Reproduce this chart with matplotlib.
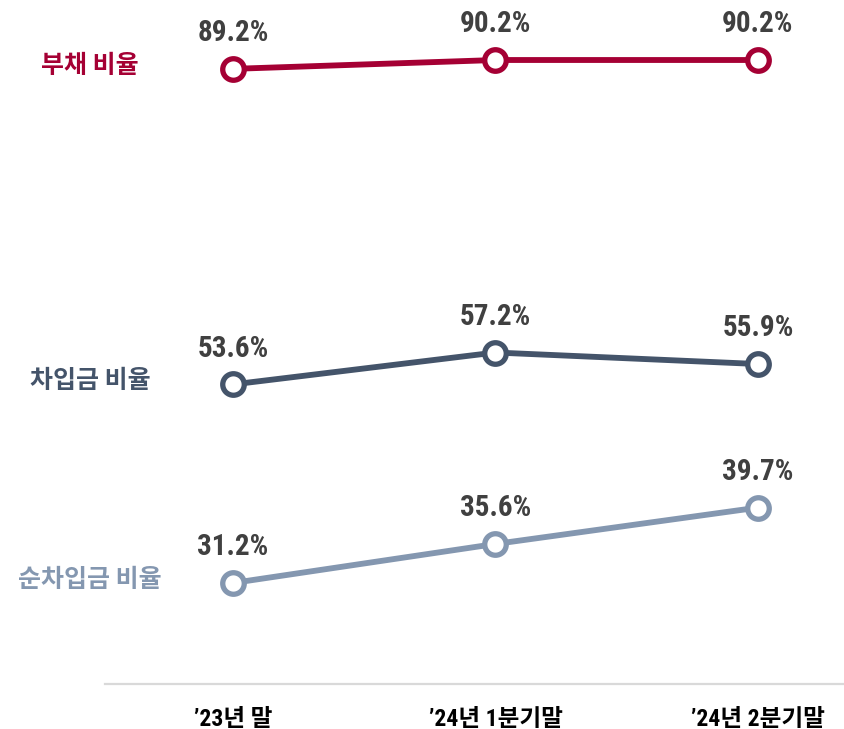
import matplotlib.pyplot as plt
from matplotlib import font_manager as fm

# categories and series values
periods = ["\u201923년 말", "\u201924년 1분기말", "\u201924년 2분기말"]
debt_ratio = [89.2, 90.2, 90.2]
borrow_ratio = [53.6, 57.2, 55.9]
net_borrow_ratio = [31.2, 35.6, 39.7]
series_names = ["부채 비율", "차입금 비율", "순차입금 비율"]
series_colors = ["#A50034", "#44546A", "#8497B0"]

# pick a narrow latin font that has a bold face, Hangul falls back to Noto CJK
bold_fonts = {f.name for f in fm.fontManager.ttflist
              if isinstance(f.weight, int) and f.weight >= 700 or f.weight == "bold"}
narrow = next((n for n in ["Liberation Sans Narrow", "Roboto Condensed", "Archivo Narrow",
                           "PT Sans Narrow", "Roboto"] if n in bold_fonts), "DejaVu Sans")
plt.rcParams["font.family"] = [narrow, "Noto Sans CJK KR", "DejaVu Sans"]

fig = plt.figure(figsize=(8.44, 7.29), dpi=100)
ax = fig.add_axes([105 / 844, 1 - 684 / 729, 1 - 105 / 844, 684 / 729])

x = list(range(len(periods)))
for vals, name, col in zip([debt_ratio, borrow_ratio, net_borrow_ratio], series_names, series_colors):
    ax.plot(x, vals, color=col, lw=4.2, marker="o", ms=15.5, mfc="white", mec=col, mew=3.8,
            solid_capstyle="round", zorder=3, clip_on=False)
    for xi, v in zip(x, vals):
        ax.annotate(f"{v:.1f}%", (xi, v), xytext=(0, 20), textcoords="offset points",
                    ha="center", va="baseline", fontsize=21, fontweight="bold", color="#404040")
    # series label on the left
    ax.text(-0.545, vals[0] + 0.35, name, ha="center", va="center", fontsize=18,
            fontweight="bold", color=col, family=["Noto Sans CJK KR", "DejaVu Sans"], clip_on=False)

ax.set_xlim(-0.4876, 2.328)
ax.set_ylim(19.8, 96.97)
ax.set_xticks(x)
ax.set_xticklabels(periods, fontsize=17, fontweight="bold", color="black")
ax.tick_params(axis="x", length=0, pad=17)
ax.set_yticks([])
for s in ["top", "right", "left"]:
    ax.spines[s].set_visible(False)
ax.spines["bottom"].set_color("#D9D9D9")
ax.spines["bottom"].set_linewidth(1.6)

fig.savefig("out.png", dpi=100)
